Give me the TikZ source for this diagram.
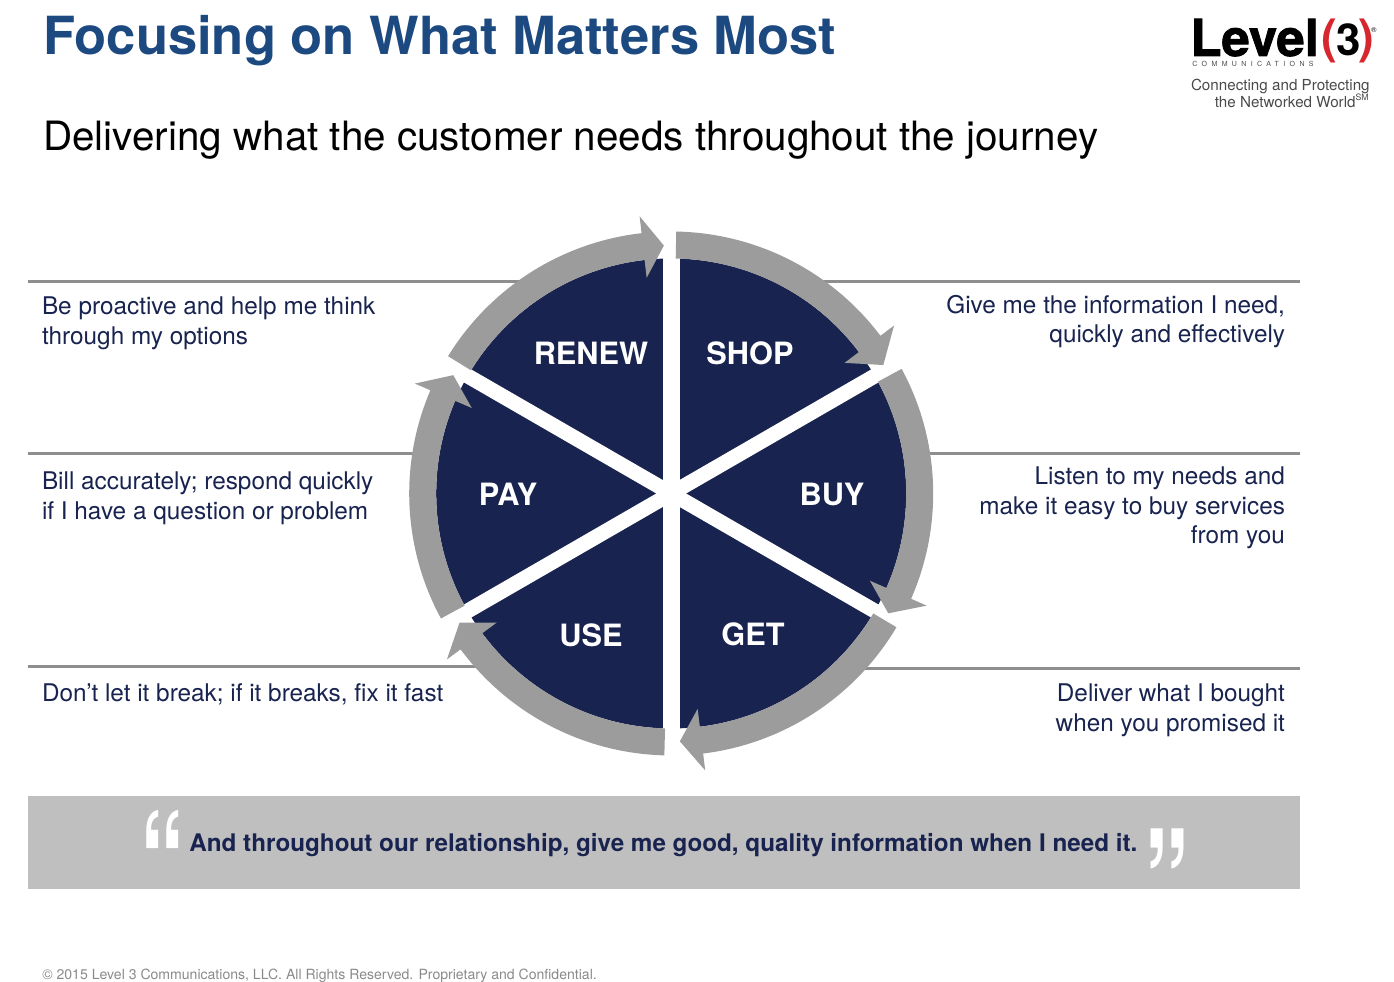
\documentclass[tikz,border=0pt]{standalone}
\usepackage{fontspec}
\usepackage{graphicx}
\setmainfont{TeX Gyre Heros}
\newfontfamily\spacedfont[LetterSpace=62]{TeX Gyre Heros}
\newfontfamily\heavyfont[BoldFeatures={FakeBold=1.6}]{TeX Gyre Heros}
\usetikzlibrary{positioning}
\definecolor{navy}{HTML}{18234F}
\definecolor{titleblue}{HTML}{1C4A80}
\definecolor{ringgray}{HTML}{9C9C9C}
\definecolor{rulegray}{HTML}{8E8E8E}
\definecolor{bandgray}{HTML}{BFBFBF}
\definecolor{logored}{HTML}{D8262F}
\definecolor{logogray}{HTML}{4A4A4A}
\definecolor{footgray}{HTML}{8A8A8A}
\newcommand{\ringarrow}[3]{% start angle, head base angle, tip angle
	\fill[ringgray] (#1:262) arc[start angle=#1, end angle=#2, radius=262]
		-- (#2:279) -- (#3:248) -- (#2:217) -- (#2:235)
		arc[start angle=#2, end angle=#1, radius=235] -- cycle;}
\begin{document}
\begin{tikzpicture}[x=0.02cm, y=0.02cm,% one unit is one pixel of the reference
rule/.style = {draw=rulegray, line width=3pt*0.567},
lab/.style = {text=navy, inner sep=0pt, outer sep=0pt,
              font=\fontsize{13.85}{16.75}\selectfont},
lableft/.style = {lab, align=left, anchor=north west},
labright/.style = {lab, align=right, anchor=north east},
wedge/.style = {text=white, inner sep=0pt,
                font=\fontsize{17.5}{20}\selectfont\bfseries},
quotemark/.style = {text=white, inner sep=0pt,
                    font=\fontsize{88}{88}\selectfont\bfseries}
                        ]
	\useasboundingbox (0,0) rectangle (1394,982);

	% heading
	\node[anchor=base west, inner sep=0pt, text=titleblue,
	      font=\fontsize{29.9}{32}\selectfont\bfseries] (title) at (43,927) {Focusing on What Matters Most};
	\node[anchor=base west, inner sep=0pt,
	      font=\fontsize{23}{26}\selectfont] (subtitle) at (43,831.5) {Delivering what the customer needs throughout the journey};

	% logo
	\node[anchor=base west, inner sep=0pt,
	      font=\fontsize{29}{30}\selectfont\heavyfont\bfseries] (level) at (1190,926) {Level};
	\node[anchor=base west, inner sep=0pt, text=logored,
	      font=\fontsize{27}{30}\selectfont\bfseries] (openp) at (1321,928) {(};
	\node[anchor=base west, inner sep=0pt,
	      font=\fontsize{25}{30}\selectfont\bfseries] (three) at (1336,926) {3};
	\node[anchor=base west, inner sep=0pt, text=logored,
	      font=\fontsize{27}{30}\selectfont\bfseries] (closep) at (1358,928) {)};
	\node[anchor=base west, inner sep=0pt,
	      font=\fontsize{4}{5}\selectfont] (regmark) at (1371,949) {®};
	\node[anchor=base west, inner sep=0pt, text=logogray,
	      font=\fontsize{4}{5}\selectfont\spacedfont] (comm) at (1192,915) {COMMUNICATIONS};
	\node[anchor=north east, inner sep=0pt, text=logogray, align=right,
	      font=\fontsize{8.65}{9.6}\selectfont] (tagline) at (1370,903) {Connecting and Protecting\\the Networked World\textsuperscript{\tiny SM}};

	% rules behind the wheel
	\coordinate (rn) at (28,700);
	\coordinate (rnend) at (520,700);
	\coordinate (sh) at (1300,700);
	\coordinate (shend) at (820,700);
	\coordinate (py) at (28,528);
	\coordinate (pyend) at (420,528);
	\coordinate (by) at (1300,528);
	\coordinate (byend) at (920,528);
	\coordinate (us) at (28,315.5);
	\coordinate (usend) at (480,315.5);
	\coordinate (gt) at (1300,313);
	\coordinate (gtend) at (860,313);
	\draw[rule] (rn) -- (rnend);
	\draw[rule] (sh) -- (shend);
	\draw[rule] (py) -- (pyend);
	\draw[rule] (by) -- (byend);
	\draw[rule] (us) -- (usend);
	\draw[rule] (gt) -- (gtend);

	% wheel
	\begin{scope}[shift={(671.2,488.5)}]
		\fill[navy] (0,0) circle[radius=235];
		\draw[white, line width=17*0.567pt] (90:240) -- (-90:240);
		\draw[white, line width=15*0.567pt] (30:240) -- (210:240);
		\draw[white, line width=15*0.567pt] (150:240) -- (-30:240);
		\ringarrow{148.4}{96.5}{91.7}
		\ringarrow{88.9}{37}{31.2}
		\ringarrow{28.4}{-23.7}{-28.9}
		\ringarrow{-30.7}{-83}{-88}
		\ringarrow{268.5}{216.5}{211.4}
		\ringarrow{208.5}{156.8}{151.5}
	\end{scope}
	\node[wedge] (renew) at (591,629) {RENEW};
	\node[wedge] (shop) at (750,629) {SHOP};
	\node[wedge] (pay) at (508,488) {PAY};
	\node[wedge] (buy) at (832,488) {BUY};
	\node[wedge] (use) at (591,347) {USE};
	\node[wedge] (get) at (753,348) {GET};

	% what the customer says
	\node[lableft] (renewtext) at (42,685) {Be proactive and help me think\\through my options};
	\node[labright] (shoptext) at (1285,687) {Give me the information I need,\\quickly and effectively};
	\node[lableft] (paytext) at (42,510) {Bill accurately; respond quickly\\if I have a question or problem};
	\node[labright] (buytext) at (1285,515) {Listen to my needs and\\make it easy to buy services\\from you};
	\node[lableft] (usetext) at (42,298) {Don’t let it break; if it breaks, fix it fast};
	\node[labright] (gettext) at (1285,298) {Deliver what I bought\\when you promised it};

	% quote band
	\fill[bandgray] (28,93) rectangle (1300,186);
	\node[anchor=base west, inner sep=0pt, text=navy,
	      font=\fontsize{13.8}{17}\selectfont\bfseries] (quote) at (189,130) {And throughout our relationship, give me good, quality information when I need it.};
	\node[quotemark, anchor=base west] (openq) at (140,64) {\scalebox{0.57}[0.95]{“}};
	\node[quotemark, anchor=base west] (closeq) at (1144,40) {\scalebox{0.58}[1]{”}};

	% footer
	\node[anchor=base west, inner sep=0pt, text=footgray,
	      font=\fontsize{8}{10}\selectfont] (footer) at (42,2) {© 2015 Level 3 Communications, LLC. All Rights Reserved. Proprietary and Confidential.};
\end{tikzpicture}
\end{document}
